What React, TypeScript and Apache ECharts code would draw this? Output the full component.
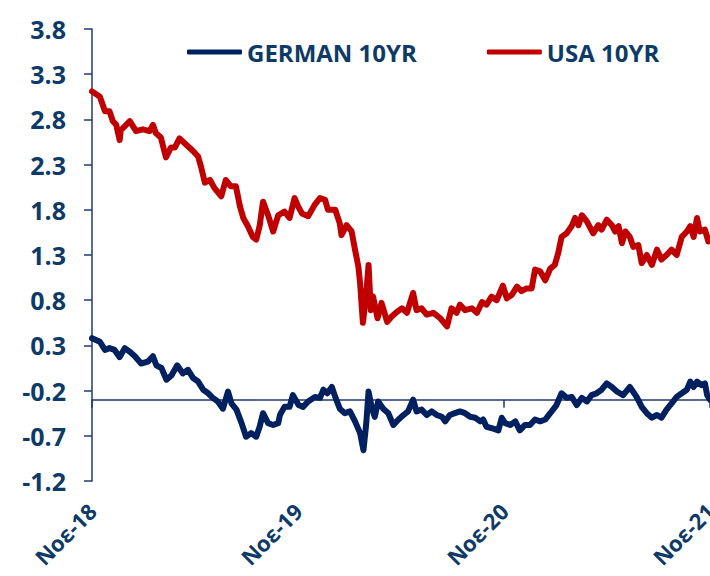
import React, { useEffect, useRef } from "react";
import * as echarts from "echarts";

// x tick labels (one per year, every November)
const xTickLabels = ["Νοε-18", "Νοε-19", "Νοε-20", "Νοε-21"];

// days since 1 Nov 2018
const deDays = [0,14,23,31,40,49,58,67,76,87,99,108,114,123,132,141,151,161,170,179,188,197,206,214,223,232,241,247,256,265,273,282,291,297,303,312,321,330,333,341,350,356,366,374,383,395,404,410,417,425,431,439,448,457,466,475,481,486,490,496,501,507,516,525,534,543,552,560,569,575,584,593,602,611,620,626,634,643,652,661,670,679,688,693,699,711,720,726,732,741,750,758,767,776,785,794,803,812,823,832,841,850,859,868,877,885,894,903,912,921,930,941,953,965,974,983,992,1001,1009,1018,1027,1036,1045,1054,1060,1066,1072,1080,1086,1090,1095];
const deYield = [0.38,0.34,0.25,0.27,0.25,0.17,0.27,0.23,0.18,0.10,0.12,0.18,0.08,0.05,-0.08,-0.03,0.08,-0.01,0.03,-0.06,-0.10,-0.19,-0.23,-0.28,-0.32,-0.40,-0.21,-0.34,-0.41,-0.56,-0.71,-0.67,-0.71,-0.60,-0.45,-0.56,-0.58,-0.56,-0.47,-0.38,-0.38,-0.25,-0.36,-0.38,-0.32,-0.27,-0.28,-0.19,-0.23,-0.16,-0.27,-0.40,-0.45,-0.43,-0.54,-0.67,-0.86,-0.56,-0.21,-0.40,-0.49,-0.32,-0.40,-0.45,-0.58,-0.52,-0.47,-0.43,-0.30,-0.43,-0.41,-0.47,-0.43,-0.47,-0.49,-0.54,-0.47,-0.45,-0.43,-0.45,-0.49,-0.50,-0.54,-0.52,-0.60,-0.62,-0.64,-0.50,-0.56,-0.58,-0.54,-0.64,-0.58,-0.58,-0.52,-0.54,-0.52,-0.45,-0.36,-0.23,-0.28,-0.27,-0.36,-0.28,-0.32,-0.25,-0.23,-0.19,-0.12,-0.16,-0.21,-0.25,-0.16,-0.27,-0.38,-0.45,-0.50,-0.47,-0.50,-0.41,-0.34,-0.27,-0.23,-0.19,-0.10,-0.16,-0.10,-0.14,-0.12,-0.25,-0.30];

const usDays = [0,14,23,31,37,43,49,51,67,78,90,102,108,113,122,131,140,147,155,167,179,188,193,200,209,217,229,237,246,255,262,268,276,285,291,297,303,312,321,330,341,350,359,365,372,383,395,404,413,418,431,439,442,451,460,466,472,475,480,486,490,494,498,506,513,523,531,540,549,558,569,575,584,593,605,617,629,637,646,652,661,673,682,691,699,708,717,728,735,744,753,761,770,779,785,794,803,812,820,826,832,841,850,856,862,868,877,888,897,903,912,921,927,933,939,945,953,959,968,974,983,992,1001,1009,1018,1027,1036,1045,1054,1060,1066,1072,1077,1086,1092,1095];
const usYield = [3.11,3.05,2.89,2.89,2.78,2.74,2.57,2.68,2.78,2.67,2.69,2.67,2.74,2.65,2.60,2.38,2.49,2.49,2.59,2.52,2.45,2.39,2.28,2.10,2.13,2.04,1.95,2.13,2.06,2.06,1.84,1.71,1.62,1.50,1.47,1.62,1.89,1.74,1.56,1.74,1.78,1.71,1.93,1.84,1.76,1.73,1.86,1.93,1.91,1.80,1.80,1.65,1.52,1.63,1.56,1.36,1.17,0.99,0.55,0.88,1.19,0.69,0.84,0.60,0.77,0.56,0.62,0.67,0.71,0.66,0.88,0.69,0.71,0.64,0.66,0.60,0.51,0.71,0.66,0.75,0.69,0.71,0.66,0.78,0.75,0.84,0.80,0.96,0.82,0.86,0.95,0.90,0.93,0.93,1.14,1.12,1.02,1.15,1.19,1.32,1.50,1.54,1.62,1.71,1.63,1.74,1.67,1.54,1.63,1.58,1.69,1.63,1.56,1.62,1.43,1.56,1.50,1.39,1.41,1.21,1.30,1.19,1.36,1.25,1.30,1.36,1.30,1.50,1.56,1.62,1.50,1.71,1.56,1.58,1.45,1.49];

const seriesNames = ["GERMAN 10YR", "USA 10YR"];
const yMin = -1.2;
const yMax = 3.8;
const yStep = 0.5;
const xCross = -0.3; // value where the horizontal axis crosses

const TEXT = "#0D3A66";
const AXIS = "#1F3A70";
const FONT = "'Open Sans', 'Noto Sans', sans-serif";

export default function App() {
  const ref = useRef<HTMLDivElement>(null);
  useEffect(() => {
    if (!ref.current) return;
    const chart = echarts.init(ref.current, null, { renderer: "svg" });
    const de = deDays.map((d, i) => [d / 365, deYield[i]]);
    const us = usDays.map((d, i) => [d / 365, usYield[i]]);
    chart.setOption({
      animation: false,
      backgroundColor: "#ffffff",
      textStyle: { fontFamily: FONT },
      grid: { left: 92, right: 0, top: 29, bottom: 95, containLabel: false, outerBoundsMode: "none" },
      legend: {
        data: seriesNames,
        left: 187,
        top: 40,
        padding: 0,
        icon: "roundRect",
        itemWidth: 55,
        itemHeight: 5,
        itemGap: 70,
        textStyle: { fontFamily: FONT, fontWeight: "bold", fontSize: 24, color: TEXT },
      },
      xAxis: [
        {
          type: "value",
          min: 0,
          max: 3,
          interval: 1,
          position: "bottom",
          axisLine: { show: true, onZero: true, onZeroAxisIndex: 1, lineStyle: { color: AXIS, width: 1.5 } },
          axisTick: { show: true, length: 8, lineStyle: { color: AXIS, width: 1.5 } },
          axisLabel: { show: false },
          splitLine: { show: false },
        },
        {
          type: "value",
          min: 0,
          max: 3,
          interval: 1,
          position: "bottom",
          axisLine: { show: false, onZero: false },
          axisTick: { show: false },
          splitLine: { show: false },
          axisLabel: {
            show: true,
            rotate: 45,
            margin: 26,
            color: TEXT,
            fontFamily: FONT,
            fontWeight: "bold",
            fontSize: 22,
            formatter: (v: number) => xTickLabels[Math.round(v)] ?? "",
          },
        },
      ],
      yAxis: [
        {
          type: "value",
          min: yMin,
          max: yMax,
          interval: yStep,
          axisLine: { show: true, onZero: false, lineStyle: { color: AXIS, width: 1.5 } },
          axisTick: { show: true, length: 8, lineStyle: { color: AXIS, width: 1.5 } },
          splitLine: { show: false },
          axisLabel: {
            margin: 26,
            color: TEXT,
            fontFamily: FONT,
            fontWeight: "bold",
            fontSize: 25,
            formatter: (v: number) => v.toFixed(1),
          },
        },
        {
          type: "value",
          show: false,
          min: yMin - xCross,
          max: yMax - xCross,
          splitLine: { show: false },
        },
      ],
      series: [
        {
          name: seriesNames[0],
          type: "line",
          xAxisIndex: 0,
          yAxisIndex: 0,
          data: de,
          symbol: "none",
          color: "#002060",
          lineStyle: { color: "#002060", width: 6, join: "round", cap: "round" },
        },
        {
          name: seriesNames[1],
          type: "line",
          xAxisIndex: 0,
          yAxisIndex: 0,
          data: us,
          symbol: "none",
          color: "#C00000",
          lineStyle: { color: "#C00000", width: 6, join: "round", cap: "round" },
        },
      ],
    });
    return () => chart.dispose();
  }, []);
  return (
    <div
      ref={ref}
      style={{ position: "absolute", left: 0, top: 0, width: 710, height: 576, background: "#fff" }}
    />
  );
}
